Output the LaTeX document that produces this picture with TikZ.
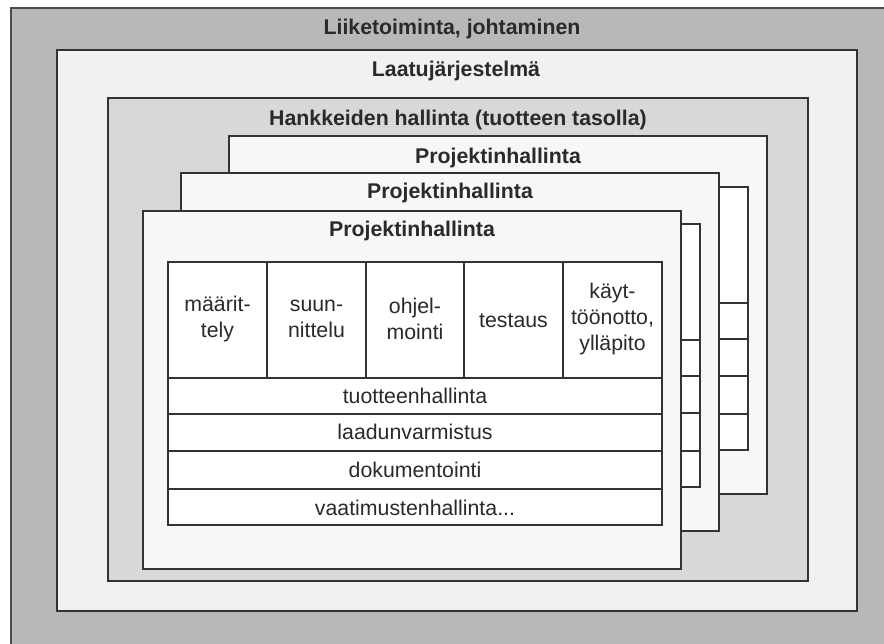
\documentclass[tikz,border=0pt]{standalone}
\usepackage{fontspec}
\setmainfont{Liberation Sans}
\definecolor{outergray}{HTML}{B8B8BA}
\definecolor{qualfill}{HTML}{F1F1F3}
\definecolor{projfill}{HTML}{D8D8DA}
\definecolor{mgmtfill}{HTML}{F7F7F8}
\definecolor{ink}{HTML}{2A2A2A}
\definecolor{edge}{HTML}{333333}

% Cells of one project frame: five phase columns and four support rows
\newcommand\phasecells{%
  \foreach \xa/\xb in {168/267,267/366,366/464,464/563,563/662}
    \draw[cellbox] (\xa,262) rectangle (\xb,378);
  \foreach \ya/\yb in {378/414,414/451,451/489,489/525}
    \draw[cellbox] (168,\ya) rectangle (662,\yb);
}

\begin{document}
\begin{tikzpicture}[x=1pt,y=-1pt,
  framebox/.style={draw=edge, line width=1.5pt},
  cellbox/.style={draw=edge, line width=1.3pt, fill=white},
  title/.style={font=\bfseries\fontsize{21.3}{24}\selectfont, text=ink, inner sep=0pt, anchor=base},
  label/.style={font=\fontsize{21.3}{26}\selectfont, text=ink, align=center, inner sep=0pt},
  rowlabel/.style={font=\fontsize{21.3}{26}\selectfont, text=ink, inner sep=0pt, anchor=base},
]
\useasboundingbox (0,0) rectangle (884,644);
\fill[white] (0,0) rectangle (884,644);

% Nested organisational layers
\begin{scope}
  \clip (0,0) rectangle (884,644);
  \draw[fill=outergray, draw=black!70, line width=1.5pt] (11,8) rectangle (900,660);
\end{scope}
\draw[framebox, fill=qualfill] (57,50) rectangle (857,611);
\draw[framebox, fill=projfill] (108,98) rectangle (808,581);

\node[title] (business) at (452,35) {Liiketoiminta, johtaminen};
\node[title] (quality) at (456,77) {Laatujärjestelmä};
\node[title] (portfolio) at (458,126) {Hankkeiden hallinta (tuotteen tasolla)};

% Rearmost project frame
\begin{scope}[shift={(86,-75)}]
  \draw[framebox, fill=mgmtfill] (143,211) rectangle (681,569);
  \phasecells
\end{scope}
\node[title] (proj3) at (498,164) {Projektinhallinta};

% Middle project frame
\begin{scope}[shift={(38,-38)}]
  \draw[framebox, fill=mgmtfill] (143,211) rectangle (681,569);
  \phasecells
\end{scope}
\node[title] (proj2) at (450,199) {Projektinhallinta};

% Front project frame with its phases and support activities
\draw[framebox, fill=mgmtfill] (143,211) rectangle (681,569);
\phasecells
\node[title] (proj1) at (412,237) {Projektinhallinta};

\node[label] (spec)   at (217.5,319) {määrit-\\tely};
\node[label] (design) at (316.5,319) {suun-\\nittelu};
\node[label] (code)   at (415,319)   {ohjel-\\mointi};
\node[label] (test)   at (513.5,321) {testaus};
\node[label] (deploy) at (612.5,319) {käyt-\\töönotto,\\ylläpito};

\node[rowlabel] (config) at (415,403) {tuotteenhallinta};
\node[rowlabel] (qa)     at (415,439) {laadunvarmistus};
\node[rowlabel] (docs)   at (415,477) {dokumentointi};
\node[rowlabel] (reqs)   at (415,515) {vaatimustenhallinta...};
\end{tikzpicture}
\end{document}
